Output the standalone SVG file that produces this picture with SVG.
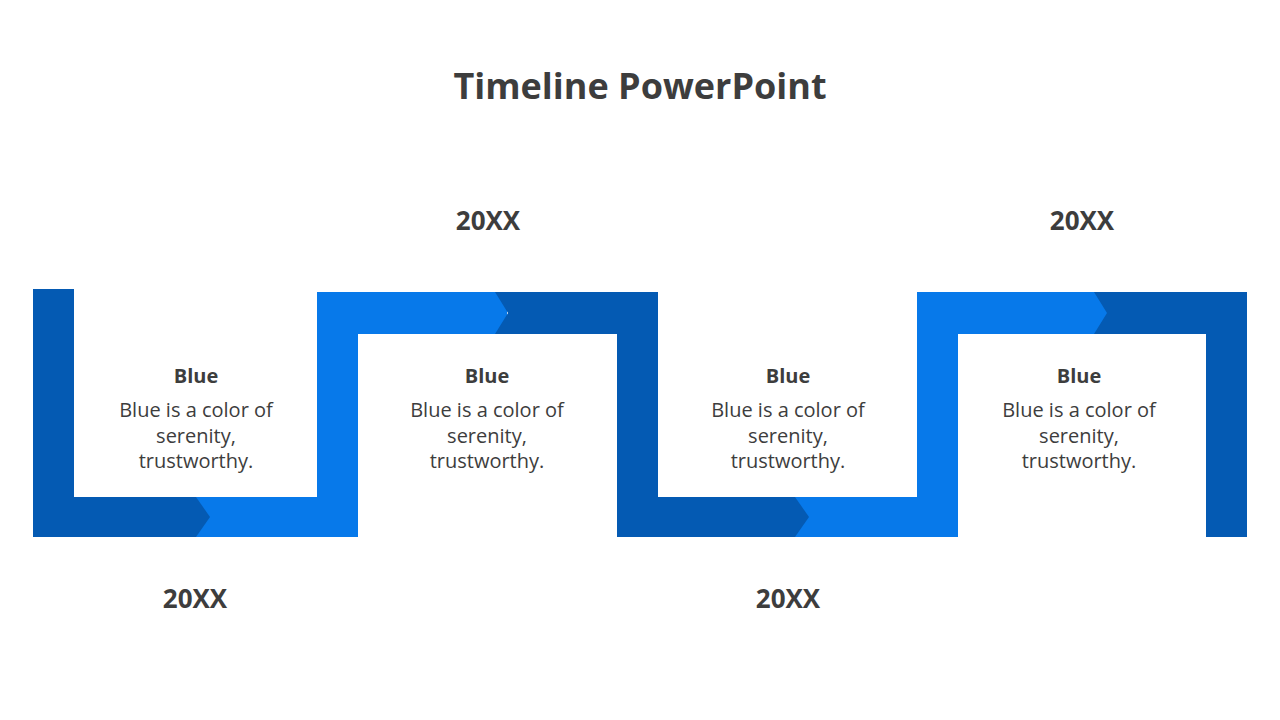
<svg xmlns="http://www.w3.org/2000/svg" width="1280" height="720" viewBox="0 0 1280 720">
<style>
.d{fill:#045AB3}.l{fill:#0779EA}
text{font-family:"Open Sans","Liberation Sans",sans-serif;fill:#3d3d3d;text-anchor:middle}
.t{font-size:36px;font-weight:bold}
.y{font-size:26px;font-weight:bold}
.h{font-size:20px;font-weight:bold}
.b{font-size:20px}
</style>
<rect width="1280" height="720" fill="#fff"/>
<text class="t" x="640" y="99">Timeline PowerPoint</text>
<g id="connectors">
<rect class="l" x="195" y="497" width="163" height="40"/>
<rect class="l" x="317" y="292" width="41" height="245"/>
<rect class="l" x="317" y="292" width="190" height="42"/>
<rect class="l" x="794" y="497" width="164" height="40"/>
<rect class="l" x="917" y="292" width="41" height="245"/>
<rect class="l" x="917" y="292" width="190" height="42"/>
<rect class="d" x="33" y="289" width="41" height="248"/>
<polygon class="d" points="33,497 196,497 210,517 196,537 33,537"/>
<polygon class="d" points="495,292 658,292 658,334 495,334 508,313"/>
<rect class="d" x="617" y="292" width="41" height="245"/>
<polygon class="d" points="617,497 795,497 809,517 795,537 617,537"/>
<polygon class="d" points="1094,292 1247,292 1247,334 1094,334 1107,313"/>
<rect class="d" x="1206" y="292" width="41" height="245"/>
</g>
<g id="n1"><text class="y" x="195" y="608">20XX</text><text class="h" x="196" y="383">Blue</text><text class="b" x="196" y="417">Blue is a color of</text><text class="b" x="196" y="443">serenity,</text><text class="b" x="196" y="468">trustworthy.</text></g>
<g id="n2"><text class="y" x="488" y="230">20XX</text><text class="h" x="487" y="383">Blue</text><text class="b" x="487" y="417">Blue is a color of</text><text class="b" x="487" y="443">serenity,</text><text class="b" x="487" y="468">trustworthy.</text></g>
<g id="n3"><text class="y" x="788" y="608">20XX</text><text class="h" x="788" y="383">Blue</text><text class="b" x="788" y="417">Blue is a color of</text><text class="b" x="788" y="443">serenity,</text><text class="b" x="788" y="468">trustworthy.</text></g>
<g id="n4"><text class="y" x="1082" y="230">20XX</text><text class="h" x="1079" y="383">Blue</text><text class="b" x="1079" y="417">Blue is a color of</text><text class="b" x="1079" y="443">serenity,</text><text class="b" x="1079" y="468">trustworthy.</text></g>
</svg>
